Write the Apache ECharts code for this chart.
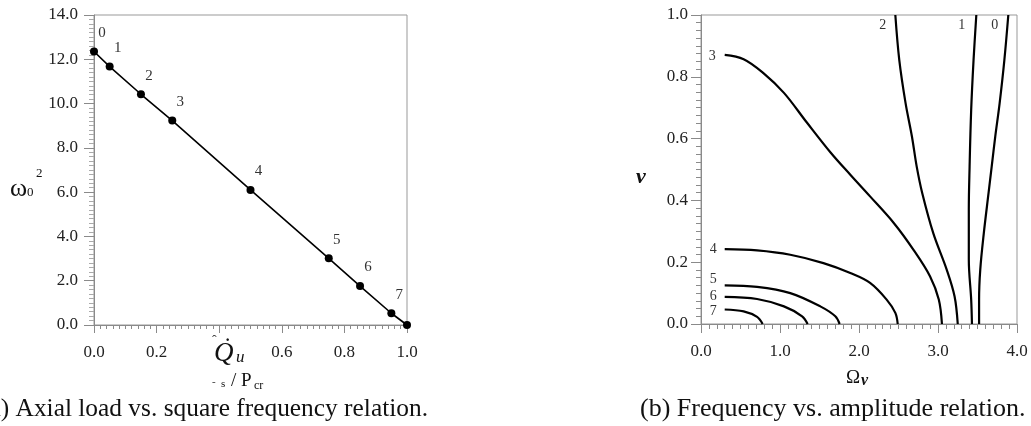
<!DOCTYPE html>
<html>
<head>
<meta charset="utf-8">
<script src="https://cdn.jsdelivr.net/npm/echarts@6/dist/echarts.min.js"></script>
<style>
html,body{margin:0;padding:0;background:#fff;}
#chart{width:1031px;height:426px;}
</style>
</head>
<body>
<div id="chart"></div>
<script>
// ---- (a) axial load vs square frequency ----
var loadRatio = [0, 0.05, 0.15, 0.25, 0.5, 0.75, 0.85, 0.95, 1.0];
var omegaSq   = [12.35, 11.67, 10.42, 9.23, 6.10, 3.01, 1.76, 0.53, 0.0];
var pointLabels = ['0', '1', '2', '3', '4', '5', '6', '7', ''];
var xTicksA = [0, 0.2, 0.4, 0.6, 0.8, 1.0];
var yTicksA = [0, 2, 4, 6, 8, 10, 12, 14];

// ---- (b) frequency vs amplitude: [Omega_v, v] ----
var curve0 = [[3.89,1.0],[3.84,0.854],[3.78,0.714],[3.725,0.607],[3.68,0.51],[3.64,0.424],[3.58,0.294],[3.535,0.176],[3.52,0.079],[3.52,0.0]];
var curve1 = [[3.485,1.0],[3.45,0.854],[3.42,0.693],[3.40,0.51],[3.39,0.37],[3.39,0.208],[3.42,0.079],[3.43,0.0]];
var curve2 = [[2.46,1.0],[2.51,0.854],[2.59,0.714],[2.67,0.607],[2.73,0.51],[2.80,0.424],[2.94,0.294],[3.11,0.176],[3.21,0.089],[3.25,0.0]];
var curve3 = [[0.30,0.871],[0.54,0.857],[0.79,0.812],[1.05,0.748],[1.34,0.652],[1.64,0.555],[1.89,0.483],[2.14,0.413],[2.44,0.327],[2.69,0.24],[2.90,0.154],[3.01,0.079],[3.05,0.0]];
var curve4 = [[0.30,0.242],[0.71,0.238],[1.13,0.224],[1.55,0.197],[1.89,0.165],[2.14,0.133],[2.35,0.079],[2.46,0.036],[2.49,0.0]];
var curve5 = [[0.30,0.125],[0.71,0.12],[1.13,0.10],[1.51,0.057],[1.70,0.025],[1.755,0.0]];
var curve6 = [[0.30,0.088],[0.71,0.081],[1.05,0.057],[1.28,0.025],[1.35,0.0]];
var curve7 = [[0.30,0.047],[0.54,0.041],[0.71,0.023],[0.78,0.0]];
var curveNames = ['0','1','2','3','4','5','6','7'];

var SERIF = '"Liberation Serif","Times New Roman",serif';
var AXC = '#8a8a8a';

var chart = echarts.init(document.getElementById('chart'), null, {renderer:'canvas'});

function fmt1(v){ return (Math.round(v*10)/10).toFixed(1); }

var curves = [curve0, curve1, curve2, curve3, curve4, curve5, curve6, curve7];
var labelOffsets = [[-10,10],[-11,10],[-9,10],[-9,1],[-8,0],[-8,-6],[-8,0],[-8,2]];

var rightSeries = curves.map(function(c, i){
  var data = c.map(function(p, j){
    if (j === 0) {
      return {value: p, label: {show: true, formatter: curveNames[i], position: 'left',
        distance: 0, offset: labelOffsets[i], fontFamily: SERIF, fontSize: 14, color: '#333'}};
    }
    return {value: p};
  });
  return {
    type: 'line', xAxisIndex: 1, yAxisIndex: 1, data: data,
    smooth: 0.35, symbol: 'circle', symbolSize: 0, showSymbol: true, showAllSymbol: true,
    lineStyle: {color: '#000', width: 2.2}, itemStyle: {color: '#000'},
    silent: true, animation: false, z: 3
  };
});

var option = {
  animation: false,
  backgroundColor: '#fff',
  grid: [
    {left: 94, top: 15, width: 313, height: 310, show: true, borderColor: '#999', borderWidth: 1, containLabel: false},
    {left: 701, top: 15, width: 316, height: 309, show: true, borderColor: '#999', borderWidth: 1, containLabel: false}
  ],
  xAxis: [
    {type: 'value', gridIndex: 0, min: 0, max: 1, interval: 0.2,
     axisLine: {show: true, lineStyle: {color: AXC, width: 1}},
     axisTick: {show: true, inside: false, length: 8, lineStyle: {color: AXC}},
     minorTick: {show: true, splitNumber: 10, length: 4, lineStyle: {color: AXC}},
     splitLine: {show: false}, minorSplitLine: {show: false},
     axisLabel: {margin: 19, fontFamily: SERIF, fontSize: 17, color: '#222',
       formatter: function(v){ return Math.abs(v-0.4) < 1e-6 ? '' : fmt1(v); }}},
    {type: 'value', gridIndex: 1, min: 0, max: 4, interval: 1,
     axisLine: {show: true, lineStyle: {color: AXC, width: 1}},
     axisTick: {show: true, inside: false, length: 9, lineStyle: {color: AXC}},
     minorTick: {show: true, splitNumber: 10, length: 5, lineStyle: {color: AXC}},
     splitLine: {show: false}, minorSplitLine: {show: false},
     axisLabel: {margin: 19, fontFamily: SERIF, fontSize: 17, color: '#222', formatter: fmt1}}
  ],
  yAxis: [
    {type: 'value', gridIndex: 0, min: 0, max: 14, interval: 2,
     axisLine: {show: true, lineStyle: {color: AXC, width: 1}},
     axisTick: {show: true, inside: false, length: 10, lineStyle: {color: AXC}},
     minorTick: {show: true, splitNumber: 10, length: 5, lineStyle: {color: '#aaa'}},
     splitLine: {show: false}, minorSplitLine: {show: false},
     axisLabel: {margin: 16, fontFamily: SERIF, fontSize: 17, color: '#222', formatter: fmt1}},
    {type: 'value', gridIndex: 1, min: 0, max: 1, interval: 0.2,
     axisLine: {show: true, lineStyle: {color: AXC, width: 1}},
     axisTick: {show: true, inside: false, length: 10, lineStyle: {color: AXC}},
     minorTick: {show: true, splitNumber: 8, length: 5, lineStyle: {color: AXC}},
     splitLine: {show: false}, minorSplitLine: {show: false},
     axisLabel: {margin: 13, fontFamily: SERIF, fontSize: 17, color: '#222', formatter: fmt1}}
  ],
  series: [
    {type: 'line', xAxisIndex: 0, yAxisIndex: 0,
     data: loadRatio.map(function(x, i){ return [x, omegaSq[i]]; }),
     symbol: 'circle', symbolSize: 8, showAllSymbol: true,
     lineStyle: {color: '#000', width: 1.6}, itemStyle: {color: '#000'},
     label: {show: true, position: 'top', distance: 0, offset: [8, -7],
       fontFamily: SERIF, fontSize: 15, color: '#333',
       formatter: function(p){ return pointLabels[p.dataIndex]; }},
     silent: true, z: 3}
  ].concat(rightSeries),
  graphic: [
    // left y-axis name: omega_0^2
    {type: 'text', left: 10, top: 176, style: {text: 'ω', font: '26px ' + SERIF, fill: '#111'}},
    {type: 'text', left: 27, top: 186, style: {text: '0', font: '13px ' + SERIF, fill: '#111'}},
    {type: 'text', left: 36, top: 167, style: {text: '2', font: '13px ' + SERIF, fill: '#111'}},
    // left x-axis name
    {type: 'text', left: 212, top: 334, style: {text: 'ˆ', font: '14px ' + SERIF, fill: '#333'}},
    {type: 'text', left: 225, top: 333, style: {text: '·', font: 'bold 16px ' + SERIF, fill: '#111'}},
    {type: 'text', left: 214, top: 340, style: {text: 'Q', font: 'italic 27px ' + SERIF, fill: '#111'}},
    {type: 'text', left: 236, top: 349, style: {text: 'u', font: 'italic 17px ' + SERIF, fill: '#111'}},
    {type: 'text', left: 212, top: 377, style: {text: '-', font: '11px ' + SERIF, fill: '#333'}},
    {type: 'text', left: 221, top: 379, style: {text: 's', font: '11px ' + SERIF, fill: '#111'}},
    {type: 'text', left: 231, top: 372, style: {text: '/ P', font: '19px ' + SERIF, fill: '#111'}},
    {type: 'text', left: 254, top: 380, style: {text: 'cr', font: '12px ' + SERIF, fill: '#111'}},
    // captions
    {type: 'text', x: 428, y: 409, style: {text: '(a) Axial load vs. square frequency relation.', font: '25.4px ' + SERIF, fill: '#111', textAlign: 'right', textVerticalAlign: 'middle'}},
    {type: 'text', x: 640, y: 409, style: {text: '(b) Frequency vs. amplitude relation.', font: '26px ' + SERIF, fill: '#111', textAlign: 'left', textVerticalAlign: 'middle'}},
    // right axis names
    {type: 'text', left: 636, top: 166, style: {text: 'v', font: 'italic bold 22px ' + SERIF, fill: '#111'}},
    {type: 'text', left: 846, top: 369, style: {text: 'Ω', font: '19px ' + SERIF, fill: '#111'}},
    {type: 'text', left: 861, top: 373, style: {text: 'v', font: 'italic bold 16px ' + SERIF, fill: '#111'}}
  ]
};
chart.setOption(option);
</script>
</body>
</html>
